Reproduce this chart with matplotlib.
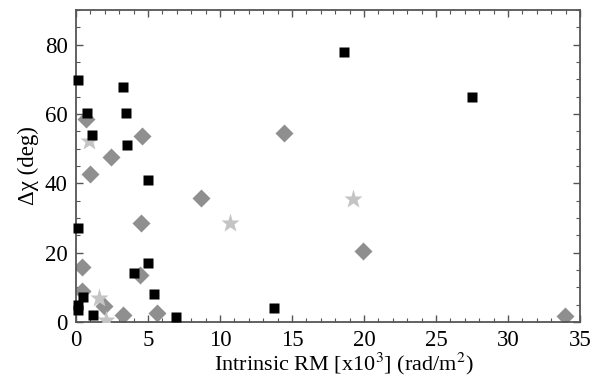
import matplotlib
matplotlib.use("Agg")
import matplotlib.pyplot as plt
from matplotlib.ticker import MultipleLocator

plt.rcParams['font.family'] = ['Liberation Serif', 'DejaVu Serif']
plt.rcParams['mathtext.fontset'] = 'stix'

# black squares
sq_x = [0.14, 0.74, 1.09, 3.29, 3.47, 3.52, 5.0, 18.6, 27.5,
        0.16, 4.98, 4.05, 5.44, 0.5, 0.12, 0.12, 1.16, 6.95, 13.75]
sq_y = [69.8, 60.2, 53.9, 67.9, 60.2, 51.1, 41.0, 78.0, 65.0,
        27.1, 17.1, 14.2, 8.2, 7.2, 4.9, 3.5, 2.0, 1.4, 4.1]

# grey diamonds
dm_x = [0.69, 4.56, 2.41, 0.97, 8.7, 14.44, 4.49, 0.42, 4.44,
        0.42, 1.95, 3.24, 5.6, 19.95, 33.96]
dm_y = [58.5, 53.6, 47.7, 42.7, 35.9, 54.6, 28.7, 15.8, 13.6,
        8.9, 4.6, 1.9, 2.6, 20.6, 1.7]

# light grey stars
st_x = [0.93, 10.7, 19.26, 1.62, 2.05]
st_y = [52.3, 28.6, 35.5, 6.8, 0.7]

fig = plt.figure(figsize=(6.06, 3.82), dpi=100)
ax = fig.add_axes([0.1254, 0.157, 0.8316, 0.817])

ax.plot(dm_x, dm_y, 'D', color='#8f8f8f', ms=9, mec='none', zorder=2)
ax.plot(st_x, st_y, '*', color='#c4c4c4', ms=14, mec='none', zorder=3)
ax.plot(sq_x, sq_y, 's', color='black', ms=7, mec='none', zorder=4, clip_on=False)

ax.set_xlim(0, 35)
ax.set_ylim(0, 90)
ax.xaxis.set_major_locator(MultipleLocator(5))
ax.xaxis.set_minor_locator(MultipleLocator(1))
ax.yaxis.set_major_locator(MultipleLocator(20))
ax.yaxis.set_minor_locator(MultipleLocator(5))
ax.tick_params(which='both', direction='in', top=True, right=True,
               labelsize=16.5, color='#555555', pad=6)
ax.tick_params(which='major', length=5, width=1)
ax.tick_params(which='minor', length=3, width=0.8)
for s in ax.spines.values():
    s.set_color('#555555')
    s.set_linewidth(1.3)

ax.set_xlabel('Intrinsic RM [x10$^3$] (rad/m$^2$)', fontsize=16)
ax.xaxis.set_label_coords(0.532, -0.092)
ax.set_ylabel('Δχ (deg)', fontsize=16.5, labelpad=4)

fig.savefig('out.png', dpi=100)
